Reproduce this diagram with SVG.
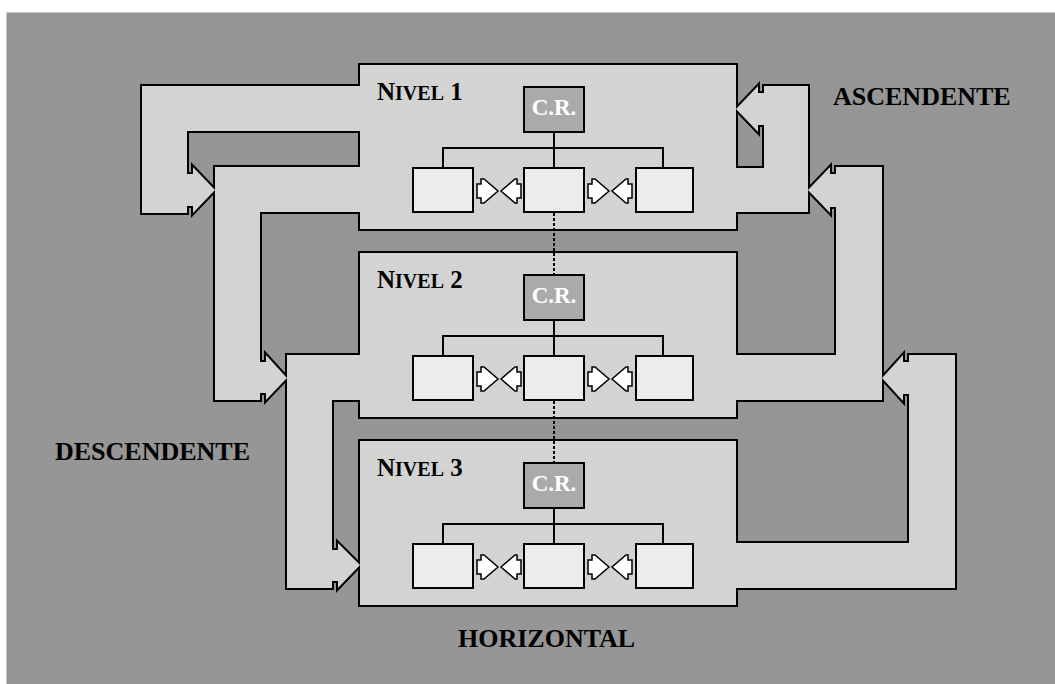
<svg xmlns="http://www.w3.org/2000/svg" xmlns:xlink="http://www.w3.org/1999/xlink" width="1055" height="684" viewBox="0 0 1055 684">
<style>
.ol{fill:#d3d3d3;stroke:#000;stroke-width:4;stroke-linejoin:miter}
.fl{fill:#d3d3d3;stroke:none}
.box{fill:#ececec;stroke:#000;stroke-width:2}
.cr{fill:#aaaaaa;stroke:#000;stroke-width:2}
.crt{font-family:"Liberation Serif","Times New Roman",serif;font-weight:bold;font-size:23px;fill:#fff;text-anchor:middle}
.ln{stroke:#000;stroke-width:2;fill:none}
.dash{stroke:#000;stroke-width:2;stroke-dasharray:3 2;fill:none}
.wa{fill:#fff;stroke:#000;stroke-width:1.5;stroke-linejoin:miter}
.lbl{font-family:"Liberation Serif","Times New Roman",serif;font-weight:bold;font-size:26px;fill:#000}
.lv{font-family:"Liberation Serif","Times New Roman",serif;font-weight:bold;font-size:25px;fill:#000}
.sc{font-size:20px}
</style>
<defs>
<rect id="L1" x="360" y="65" width="376" height="164"/>
<rect id="L2" x="360" y="253" width="376" height="164"/>
<rect id="L3" x="360" y="441" width="376" height="164"/>
<polygon id="loopTL" points="370,86 142,86 142,213 187,213 187,206 193,206 193,213 215,190 193,167 193,174 187,174 187,131 370,131"/>
<polygon id="desc1" points="370,167 215,167 215,400 260,400 260,393 266,393 266,400 287,378 266,355 266,362 260,362 260,212 370,212"/>
<polygon id="desc2" points="370,355 287,355 287,588 332,588 332,581 338,581 338,588 360,565 338,543 338,550 332,550 332,400 370,400"/>
<polygon id="asc1" points="726,168 764,168 764,125 758,125 758,132 736,109 758,86 758,93 764,93 764,86 808,86 808,212 726,212"/>
<polygon id="asc2" points="726,355 836,355 836,207 830,207 830,213 808,190 830,167 830,174 836,174 836,167 882,167 882,400 726,400"/>
<polygon id="asc3" points="726,543 909,543 909,394 903,394 903,401 882,378 903,355 903,362 909,362 909,355 955,355 955,588 726,588"/>
<g id="wpair">
<polygon class="wa" points="477,184 481,184 481,179 484,179 498,191 484,203 481,203 481,198 477,198"/>
<polygon class="wa" points="521,184 517,184 517,179 515,179 501,191 515,203 517,203 517,198 521,198"/>
</g>
</defs>
<rect x="0" y="0" width="1055" height="684" fill="#fff"/>
<rect x="6.5" y="12.5" width="1060" height="680" fill="#969696" stroke="#c4c4c4" stroke-width="1"/>
<g id="outlines">
<use xlink:href="#L1" class="ol"/>
<use xlink:href="#L2" class="ol"/>
<use xlink:href="#L3" class="ol"/>
<use xlink:href="#loopTL" class="ol"/>
<use xlink:href="#desc1" class="ol"/>
<use xlink:href="#desc2" class="ol"/>
<use xlink:href="#asc1" class="ol"/>
<use xlink:href="#asc2" class="ol"/>
<use xlink:href="#asc3" class="ol"/>
</g>
<g id="level-1">
<use xlink:href="#L1" class="fl"/>
<text class="lv" x="377" y="100">N<tspan class="sc">IVEL</tspan> 1</text>
<path class="ln" d="M554,132V168M443,168V148H663V168"/>
<rect class="cr" x="524" y="87" width="60" height="45"/>
<text class="crt" x="554" y="115">C.R.</text>
<rect class="box" x="413" y="168" width="60" height="44"/>
<rect class="box" x="524" y="168" width="60" height="44"/>
<rect class="box" x="636" y="168" width="57" height="44"/>
<use xlink:href="#wpair"/>
<use xlink:href="#wpair" x="111"/>
</g>
<g id="level-2">
<use xlink:href="#L2" class="fl"/>
<text class="lv" x="377" y="288">N<tspan class="sc">IVEL</tspan> 2</text>
<path class="ln" d="M554,320V356M443,356V336H663V356"/>
<rect class="cr" x="524" y="275" width="60" height="45"/>
<text class="crt" x="554" y="303">C.R.</text>
<rect class="box" x="413" y="356" width="60" height="44"/>
<rect class="box" x="524" y="356" width="60" height="44"/>
<rect class="box" x="636" y="356" width="57" height="44"/>
<use xlink:href="#wpair" y="188"/>
<use xlink:href="#wpair" x="111" y="188"/>
</g>
<g id="level-3">
<use xlink:href="#L3" class="fl"/>
<text class="lv" x="377" y="476">N<tspan class="sc">IVEL</tspan> 3</text>
<path class="ln" d="M554,508V544M443,544V524H663V544"/>
<rect class="cr" x="524" y="463" width="60" height="45"/>
<text class="crt" x="554" y="491">C.R.</text>
<rect class="box" x="413" y="544" width="60" height="44"/>
<rect class="box" x="524" y="544" width="60" height="44"/>
<rect class="box" x="636" y="544" width="57" height="44"/>
<use xlink:href="#wpair" y="376"/>
<use xlink:href="#wpair" x="111" y="376"/>
</g>
<g id="connectors">
<use xlink:href="#loopTL" class="fl"/>
<use xlink:href="#desc1" class="fl"/>
<use xlink:href="#desc2" class="fl"/>
<use xlink:href="#asc1" class="fl"/>
<use xlink:href="#asc2" class="fl"/>
<use xlink:href="#asc3" class="fl"/>
<path class="dash" d="M554,213V274M554,401V462"/>
</g>
<g id="labels">
<text class="lbl" x="833" y="105">ASCENDENTE</text>
<text class="lbl" x="55" y="460">DESCENDENTE</text>
<text class="lbl" x="458" y="647">HORIZONTAL</text>
</g>
</svg>
